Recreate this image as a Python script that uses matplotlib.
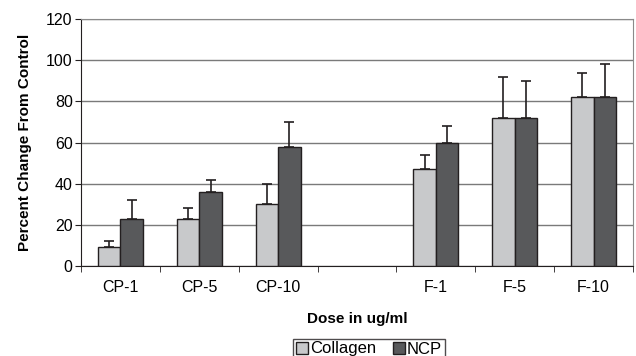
import numpy as np
import matplotlib.pyplot as plt

plt.rcParams['font.family'] = ['Liberation Sans', 'DejaVu Sans']

categories = ['CP-1', 'CP-5', 'CP-10', '', 'F-1', 'F-5', 'F-10']
collagen = [9, 23, 30, np.nan, 47, 72, 82]
collagen_top = [12, 28, 40, np.nan, 54, 92, 94]
ncp = [23, 36, 58, np.nan, 60, 72, 82]
ncp_top = [32, 42, 70, np.nan, 68, 90, 98]

collagen = np.array(collagen, dtype=float)
ncp = np.array(ncp, dtype=float)
coll_err = np.array(collagen_top, dtype=float) - collagen
ncp_err = np.array(ncp_top, dtype=float) - ncp

fig = plt.figure(figsize=(6.36, 3.56), dpi=100)
ax = fig.add_axes([81 / 636, 1 - 266 / 356, (633 - 81) / 636, (266 - 19) / 356])

x = np.arange(len(categories))
w = 0.285
edge = '#231f20'
err_kw = dict(ecolor=edge, elinewidth=1.2, capsize=3.5, capthick=1.2)

ax.bar(x - w / 2, collagen, w, color='#c8c9cb', edgecolor=edge, linewidth=1,
       yerr=[np.zeros_like(coll_err), coll_err], error_kw=err_kw, label='Collagen', zorder=3)
ax.bar(x + w / 2, ncp, w, color='#58595b', edgecolor=edge, linewidth=1,
       yerr=[np.zeros_like(ncp_err), ncp_err], error_kw=err_kw, label='NCP', zorder=3)

ax.set_xlim(-0.5, len(categories) - 0.5)
ax.set_ylim(0, 120)
ax.set_yticks(range(0, 121, 20))
ax.yaxis.grid(True, color='#7a7a7a', linewidth=1, zorder=0)

ax.set_xticks(x)
ax.set_xticklabels(categories, fontsize=11.5)
ax.set_xticks(np.arange(-0.5, len(categories), 1), minor=True)
ax.tick_params(axis='x', which='major', length=0, pad=10)
ax.tick_params(axis='x', which='minor', length=4, color=edge, direction='out')
ax.tick_params(axis='y', labelsize=11.5, length=4, color=edge, direction='out', pad=2)

for s in ['top', 'right']:
    ax.spines[s].set_color('#8a8a8a')
for s in ['left', 'bottom']:
    ax.spines[s].set_color(edge)

ax.set_ylabel('Percent Change From Control', fontsize=11, fontweight='bold', labelpad=10)
ax.set_xlabel('Dose in ug/ml', fontsize=11, fontweight='bold', labelpad=12)

leg = ax.legend(loc='upper center', bbox_to_anchor=(369 / 636, 1 - 339 / 356),
                bbox_transform=fig.transFigure,
                ncol=2, fontsize=12, frameon=True, fancybox=False, handlelength=0.7,
                handleheight=0.7, handletextpad=0.15, columnspacing=1.0, borderpad=0.15,
                borderaxespad=0)
leg.get_frame().set_edgecolor(edge)
leg.get_frame().set_linewidth(1)

fig.savefig('out.png', dpi=100)
